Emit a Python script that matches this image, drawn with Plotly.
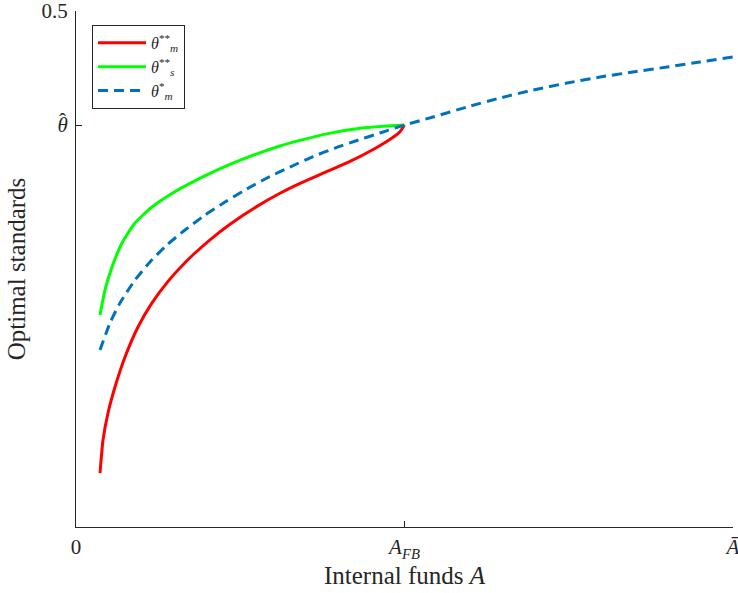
import plotly.graph_objects as go

# ---- data (x in units where A_FB = 1, A_bar = 2) ----
theta_hat = 0.3895
A_FB = 1.0
A_bar = 2.0

x_green = [0.0731, 0.0883, 0.1096, 0.140, 0.1796, 0.2314, 0.2922, 0.347, 0.4079, 0.4688, 0.551, 0.621, 0.6819,
           0.7671, 0.8706, 0.9711, 1.0]
y_green = [0.2054, 0.2297, 0.2519, 0.2752, 0.2946, 0.3101, 0.3232, 0.3329, 0.3426, 0.3513, 0.3616, 0.3692, 0.3746,
           0.3812, 0.3866, 0.3891, 0.3895]

x_red = [0.0731, 0.0822, 0.0974, 0.1187, 0.1492, 0.1887, 0.2314, 0.2801, 0.3227, 0.3623, 0.4079, 0.4688, 0.551,
         0.621, 0.6819, 0.7489, 0.828, 0.9102, 0.962, 0.9863, 1.0]
y_red = [0.0523, 0.0843, 0.1105, 0.1357, 0.1647, 0.1938, 0.2171, 0.2380, 0.2532, 0.2655, 0.2783, 0.2934, 0.3107,
         0.3234, 0.3330, 0.3424, 0.3533, 0.3668, 0.3770, 0.3830, 0.3895]

x_blue = [0.0731, 0.1035, 0.1339, 0.1796, 0.2253, 0.277, 0.3318, 0.3927, 0.4536, 0.5145, 0.5814, 0.6514, 0.7184,
          0.7884, 0.8554, 0.9254, 1.0, 1.0868, 1.1903, 1.2907, 1.3912, 1.4947, 1.5951, 1.6956, 1.7991, 1.8995, 2.0]
y_blue = [0.1715, 0.1977, 0.2171, 0.2393, 0.2568, 0.2733, 0.2878, 0.3023, 0.3149, 0.3266, 0.3382, 0.3488, 0.3585,
          0.3672, 0.3745, 0.3818, 0.3895, 0.3973, 0.4070, 0.4157, 0.4234, 0.4302, 0.4360, 0.4409, 0.4457, 0.4506, 0.4554]

x_tickvals = [0, A_FB, A_bar]
x_ticktext = ["0", "<i>A</i><sub><i>FB</i></sub>", "<i>Ā</i>"]
y_tickvals = [theta_hat, 0.5]
y_ticktext = ["<i>θ</i>", "0.5"]

FONT = "Liberation Serif"
AXC = "#262626"
SMOOTH = 0.55

fig = go.Figure()
fig.add_trace(go.Scatter(x=x_red, y=y_red, mode="lines",
                         line=dict(color="#FF0000", width=3, shape="spline", smoothing=SMOOTH),
                         name="<i>θ</i><sup>**</sup><sub><i>m</i></sub>"))
fig.add_trace(go.Scatter(x=x_green, y=y_green, mode="lines",
                         line=dict(color="#00FF00", width=3, shape="spline", smoothing=SMOOTH),
                         name="<i>θ</i><sup>**</sup><sub><i>s</i></sub>"))
fig.add_trace(go.Scatter(x=x_blue, y=y_blue, mode="lines",
                         line=dict(color="#0072BD", width=3, shape="spline", smoothing=SMOOTH, dash="10px,6px"),
                         name="<i>θ</i><sup>*</sup><sub><i>m</i></sub>"))

# hat over the theta tick label
fig.add_annotation(text="ˆ", xref="paper", x=0, yref="y", y=theta_hat, xanchor="center", yanchor="middle",
                   xshift=-14, yshift=4, showarrow=False, font=dict(size=21, family=FONT, color="#262626"))

fig.update_layout(
    width=738, height=593,
    margin=dict(l=76, r=5, t=11, b=66),
    paper_bgcolor="white", plot_bgcolor="white",
    font=dict(family=FONT, color="#262626", size=21),
    legend=dict(x=0.0244, y=0.973, xanchor="left", yanchor="top",
                bordercolor=AXC, borderwidth=1, bgcolor="white",
                font=dict(size=16), tracegroupgap=0, itemwidth=48),
    showlegend=True,
    hovermode=False,
)
fig.update_xaxes(range=[0, 2], tickvals=x_tickvals, ticktext=x_ticktext, automargin=False,
                 showline=True, linecolor=AXC, linewidth=1, mirror=False, ticklabeloverflow="allow",
                 ticks="inside", ticklen=6, tickcolor=AXC, showgrid=False, zeroline=False,
                 tickfont=dict(size=21), ticklabelstandoff=1,
                 title=dict(text="Internal funds <i>A</i>", font=dict(size=25), standoff=4))
fig.update_yaxes(range=[0, 0.5], tickvals=y_tickvals, ticktext=y_ticktext, automargin=False,
                 showline=True, linecolor=AXC, linewidth=1, mirror=False, ticklabeloverflow="allow",
                 ticks="inside", ticklen=6, tickcolor=AXC, showgrid=False, zeroline=False,
                 tickfont=dict(size=21), ticklabelstandoff=3,
                 title=dict(text="Optimal standards", font=dict(size=25), standoff=8))

fig.write_html("out.html", config={"displayModeBar": False},
               post_script="document.body.style.margin='0';document.body.style.overflow='hidden';")
